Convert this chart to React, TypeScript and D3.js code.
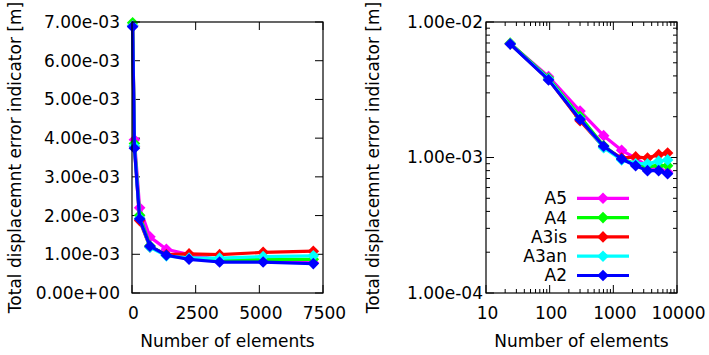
import React from "react";
import * as d3 from "d3";

// Number of elements of each mesh refinement step
const elements = [24, 96, 300, 704, 1350, 2240, 3440, 5150, 7120];

// Total displacement error indicator [m] for each variant
const a5 = [6.9e-3, 3.96e-3, 2.2e-3, 1.45e-3, 1.13e-3, 0.99e-3, 0.86e-3, 0.82e-3, 0.78e-3];
const a4 = [6.98e-3, 3.86e-3, 2.01e-3, 1.22e-3, 0.98e-3, 0.9e-3, 0.86e-3, 0.87e-3, 0.87e-3];
const a3is = [6.9e-3, 3.78e-3, 1.87e-3, 1.19e-3, 0.99e-3, 1.01e-3, 0.99e-3, 1.05e-3, 1.08e-3];
const a3an = [6.9e-3, 3.8e-3, 1.93e-3, 1.18e-3, 0.96e-3, 0.9e-3, 0.9e-3, 0.94e-3, 0.96e-3];
const a2 = [6.88e-3, 3.74e-3, 1.91e-3, 1.21e-3, 0.975e-3, 0.87e-3, 0.8e-3, 0.8e-3, 0.76e-3];

const seriesNames = ["A5", "A4", "A3is", "A3an", "A2"];
const seriesValues = [a5, a4, a3is, a3an, a2];
const seriesColors = ["#ff00ff", "#00ff00", "#ff0000", "#00ffff", "#0000ff"];

const linTicksX = [0, 2500, 5000, 7500];
const linTicksY = [0, 1e-3, 2e-3, 3e-3, 4e-3, 5e-3, 6e-3, 7e-3];
const logMajorX = [10, 100, 1000, 10000];
const logMajorY = [1e-4, 1e-3, 1e-2];

const FONT = "DejaVu Sans, sans-serif";
const FS = 17;
const TOP = 22;
const BOTTOM = 293;
const TICK = 8;
const MINOR = 4;

const fmtExp = (v: number) => {
  const s = v.toExponential(2); // e.g. 7.00e-3
  const m = s.match(/^(-?[\d.]+)e([+-])(\d+)$/)!;
  return `${m[1]}e${m[2]}${m[3].padStart(2, "0")}`;
};

const diamond = (x: number, y: number, r: number) =>
  `M${x},${y - r}L${x + r},${y}L${x},${y + r}L${x - r},${y}Z`;

function Frame({ x0, x1 }: { x0: number; x1: number }) {
  return (
    <rect x={x0} y={TOP} width={x1 - x0} height={BOTTOM - TOP} fill="none" stroke="#000" strokeWidth={1.2} />
  );
}

function Series({ xs, ys }: { xs: (v: number) => number; ys: (v: number) => number }) {
  return (
    <g>
      {seriesValues.map((vals, i) => {
        const line = d3
          .line<number>()
          .x((_, j) => xs(elements[j]))
          .y((v) => ys(v));
        return (
          <g key={seriesNames[i]}>
            <path d={line(vals) ?? ""} fill="none" stroke={seriesColors[i]} strokeWidth={3.2} strokeLinejoin="round" />
            {vals.map((v, j) => (
              <path key={j} d={diamond(xs(elements[j]), ys(v), 5.8)} fill={seriesColors[i]} />
            ))}
          </g>
        );
      })}
    </g>
  );
}

function LinearPanel() {
  const x0 = 132;
  const x1 = 323;
  const xs = d3.scaleLinear().domain([0, 7500]).range([x0, x1]);
  const ys = d3.scaleLinear().domain([0, 7e-3]).range([BOTTOM, TOP]);
  return (
    <g>
      {linTicksY.map((t) => (
        <g key={t}>
          <line x1={x0} x2={x0 + TICK} y1={ys(t)} y2={ys(t)} stroke="#000" />
          <line x1={x1} x2={x1 - TICK} y1={ys(t)} y2={ys(t)} stroke="#000" />
          <text x={x0 - 12} y={ys(t)} dy="0.35em" textAnchor="end" fontSize={FS} fontFamily={FONT}>
            {fmtExp(t)}
          </text>
        </g>
      ))}
      {linTicksX.map((t) => (
        <g key={t}>
          <line x1={xs(t)} x2={xs(t)} y1={BOTTOM} y2={BOTTOM - TICK} stroke="#000" />
          <line x1={xs(t)} x2={xs(t)} y1={TOP} y2={TOP + TICK} stroke="#000" />
          <text x={xs(t) + 1.5} y={313} dy="0.35em" textAnchor="middle" fontSize={FS} fontFamily={FONT}>
            {t}
          </text>
        </g>
      ))}
      <Series xs={xs} ys={ys} />
      <Frame x0={x0} x1={x1} />
      <text x={(x0 + x1) / 2} y={341} dy="0.35em" textAnchor="middle" fontSize={FS} fontFamily={FONT}>
        Number of elements
      </text>
      <text
        transform={`translate(15,${(TOP + BOTTOM) / 2}) rotate(-90)`}
        dy="0.35em"
        textAnchor="middle"
        fontSize={FS}
        fontFamily={FONT}
      >
        Total displacemnt error indicator [m]
      </text>
    </g>
  );
}

function LogPanel() {
  const x0 = 486;
  const x1 = 677;
  const xs = d3.scaleLog().domain([10, 10000]).range([x0, x1]);
  const ys = d3.scaleLog().domain([1e-4, 1e-2]).range([BOTTOM, TOP]);
  const minorX: number[] = [];
  logMajorX.slice(0, -1).forEach((m) => {
    for (let k = 2; k <= 9; k++) minorX.push(m * k);
  });
  const minorY: number[] = [];
  logMajorY.slice(0, -1).forEach((m) => {
    for (let k = 2; k <= 9; k++) minorY.push(m * k);
  });
  const legendX = 567;
  const legendY0 = 198.3;
  const legendDy = 19.3;
  return (
    <g>
      {minorY.map((t) => (
        <g key={t}>
          <line x1={x0} x2={x0 + MINOR} y1={ys(t)} y2={ys(t)} stroke="#000" />
          <line x1={x1} x2={x1 - MINOR} y1={ys(t)} y2={ys(t)} stroke="#000" />
        </g>
      ))}
      {logMajorY.map((t) => (
        <g key={t}>
          <line x1={x0} x2={x0 + TICK} y1={ys(t)} y2={ys(t)} stroke="#000" />
          <line x1={x1} x2={x1 - TICK} y1={ys(t)} y2={ys(t)} stroke="#000" />
          <text x={x0 - 3} y={ys(t)} dy="0.35em" textAnchor="end" fontSize={FS} fontFamily={FONT}>
            {fmtExp(t)}
          </text>
        </g>
      ))}
      {minorX.map((t) => (
        <g key={t}>
          <line x1={xs(t)} x2={xs(t)} y1={BOTTOM} y2={BOTTOM - MINOR} stroke="#000" />
          <line x1={xs(t)} x2={xs(t)} y1={TOP} y2={TOP + MINOR} stroke="#000" />
        </g>
      ))}
      {logMajorX.map((t) => (
        <g key={t}>
          <line x1={xs(t)} x2={xs(t)} y1={BOTTOM} y2={BOTTOM - TICK} stroke="#000" />
          <line x1={xs(t)} x2={xs(t)} y1={TOP} y2={TOP + TICK} stroke="#000" />
          <text x={xs(t) + 1.5} y={313} dy="0.35em" textAnchor="middle" fontSize={FS} fontFamily={FONT}>
            {t}
          </text>
        </g>
      ))}
      <Series xs={xs} ys={ys} />
      {seriesNames.map((name, i) => {
        const y = legendY0 + i * legendDy;
        return (
          <g key={name}>
            <text x={legendX} y={y} dy="0.35em" textAnchor="end" fontSize={FS} fontFamily={FONT}>
              {name}
            </text>
            <line x1={577} x2={629} y1={y} y2={y} stroke={seriesColors[i]} strokeWidth={3.2} />
            <path d={diamond(603, y, 5.8)} fill={seriesColors[i]} />
          </g>
        );
      })}
      <Frame x0={x0} x1={x1} />
      <text x={(x0 + x1) / 2} y={341} dy="0.35em" textAnchor="middle" fontSize={FS} fontFamily={FONT}>
        Number of elements
      </text>
      <text
        transform={`translate(373,${(TOP + BOTTOM) / 2}) rotate(-90)`}
        dy="0.35em"
        textAnchor="middle"
        fontSize={FS}
        fontFamily={FONT}
      >
        Total displacemnt error indicator [m]
      </text>
    </g>
  );
}

export default function App() {
  return (
    <svg
      width={709}
      height={355}
      viewBox="0 0 709 355"
      style={{ position: "absolute", left: 0, top: 0, background: "#fff" }}
    >
      <rect width={709} height={355} fill="#fff" />
      <LinearPanel />
      <LogPanel />
    </svg>
  );
}
